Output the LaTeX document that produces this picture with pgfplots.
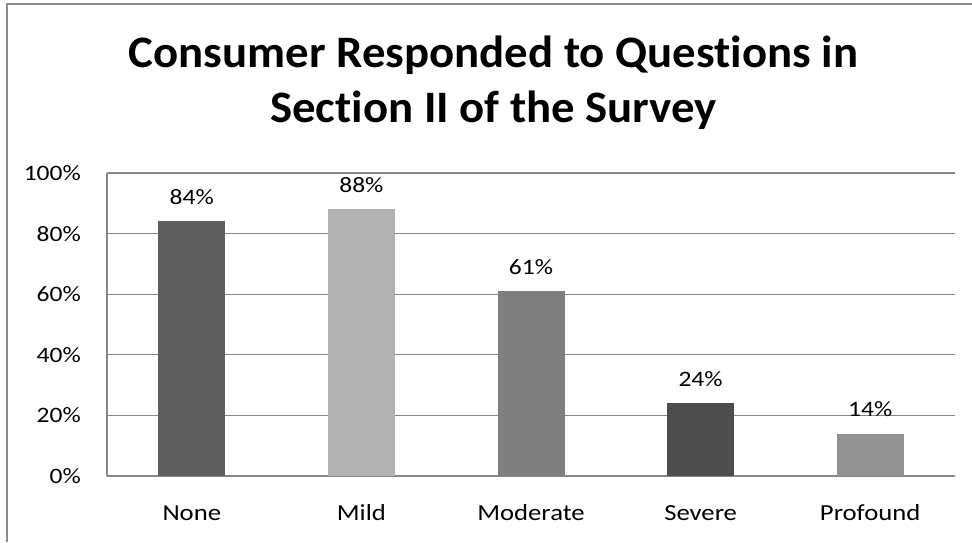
\documentclass[border=0pt]{standalone}
\usepackage{pgfplots}
\pgfplotsset{compat=1.18}
\usepackage{fontspec}
\setmainfont{Carlito}
\newfontfamily\titlefont{Carlito}[FakeStretch=1.04, Ligatures=NoCommon]
\newfontfamily\labelfont{Carlito}[FakeStretch=1.16, Ligatures=NoCommon]
\definecolor{gridc}{HTML}{868686}
\definecolor{framec}{HTML}{8C8C8C}
\definecolor{cNone}{HTML}{5F5F5F}
\definecolor{cMild}{HTML}{B2B2B2}
\definecolor{cModerate}{HTML}{7F7F7F}
\definecolor{cSevere}{HTML}{4D4D4D}
\definecolor{cProfound}{HTML}{929292}
\begin{document}
\begin{tikzpicture}[x=1pt,y=1pt]
\path[use as bounding box] (0,0) rectangle (972,542);
\draw[framec, line width=2pt] (7,538) -- (972,538);
\draw[framec, line width=1.5pt] (7,0) -- (7,539);
\node[anchor=base, font=\fontsize{45}{54}\selectfont\titlefont\bfseries] at (493.5,474) {Consumer Responded to Questions in};
\node[anchor=base, font=\fontsize{45}{54}\selectfont\titlefont\bfseries] at (493.5,419) {Section II of the Survey};
\begin{axis}[
  at={(107pt,66pt)}, anchor=south west,
  width=848pt, height=303pt, scale only axis,
  xmin=-0.5, xmax=4.5, ymin=0, ymax=100,
  axis lines=left, axis line style={-, draw=gridc, line width=1.2pt},
  ymajorgrids, grid style={gridc, line width=1.2pt},
  major tick length=0pt,
  ytick={0,20,40,60,80,100},
  yticklabels={0\%,20\%,40\%,60\%,80\%,100\%},
  xtick={0,1,2,3,4},
  xticklabels={None,Mild,Moderate,Severe,Profound},
  tick label style={font=\fontsize{22}{26}\selectfont\labelfont, text=black},
  y tick label style={anchor=east, inner sep=0pt, xshift=-26pt},
  x tick label style={anchor=north, inner sep=0pt, text height=15pt, yshift=-29pt, font=\fontsize{23}{27}\selectfont\labelfont},
  /pgf/number format/assume math mode=true,
  ybar, bar width=67pt, bar shift=0pt,
  nodes near coords={\pgfmathprintnumber{\pgfplotspointmeta}\%},
  every node near coord/.append style={font=\fontsize{22}{26}\selectfont\labelfont, text=black, anchor=base, inner sep=0pt, yshift=17pt},
]
\addplot[fill=cNone, draw=none, bar shift=0pt] coordinates {(0,84)};
\addplot[fill=cMild, draw=none, bar shift=0pt] coordinates {(1,88)};
\addplot[fill=cModerate, draw=none, bar shift=0pt] coordinates {(2,61)};
\addplot[fill=cSevere, draw=none, bar shift=0pt] coordinates {(3,24)};
\addplot[fill=cProfound, draw=none, bar shift=0pt] coordinates {(4,14)};
\end{axis}
\end{tikzpicture}
\end{document}
